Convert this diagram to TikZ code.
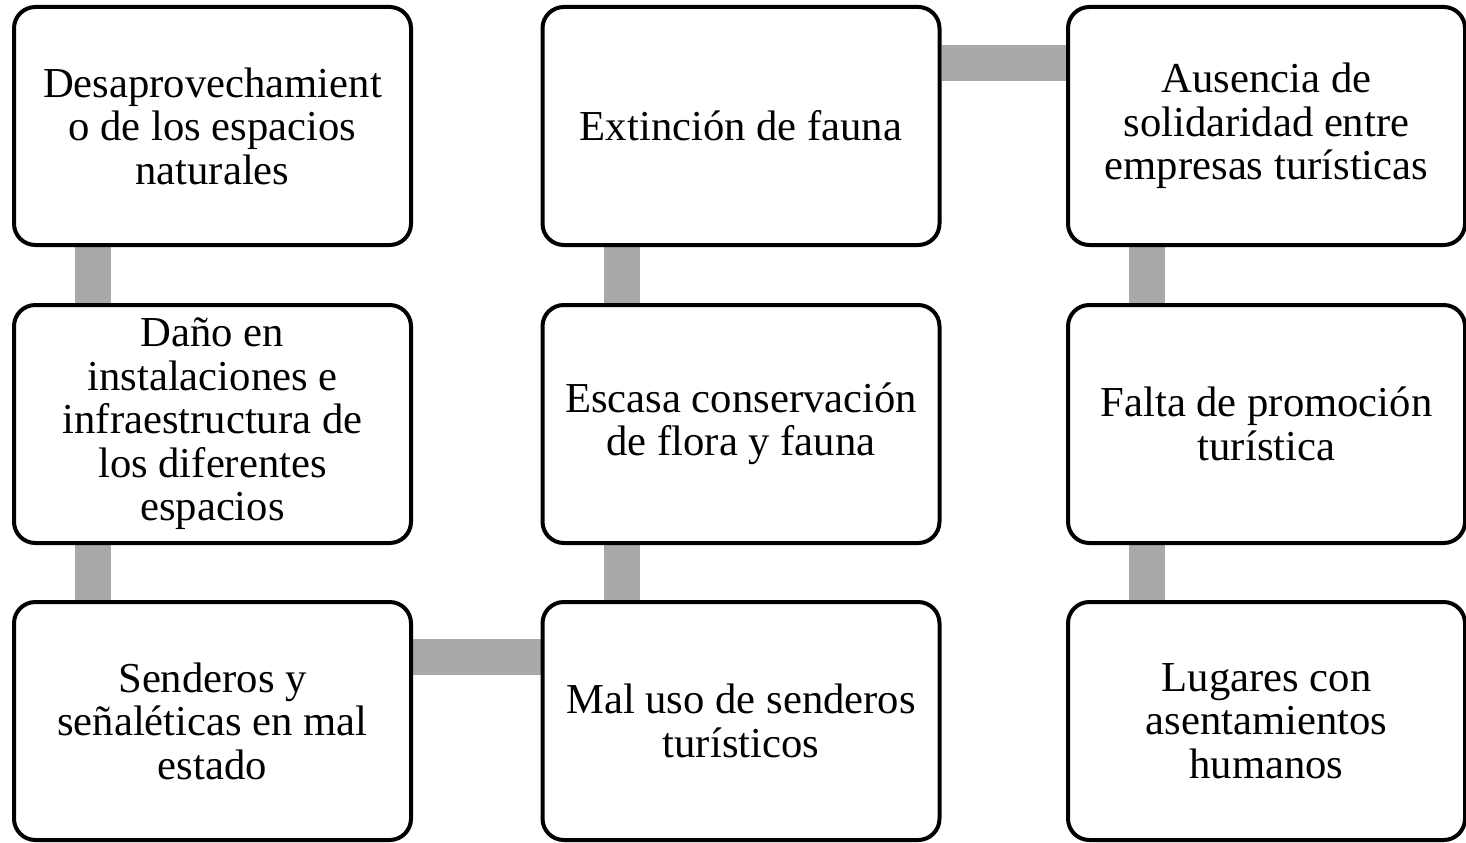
\documentclass[tikz,border=0pt]{standalone}
\usepackage{fontspec}
\setmainfont{Liberation Serif}
\usetikzlibrary{calc,backgrounds}
\definecolor{bargray}{RGB}{169,169,169}
\begin{document}
\begin{tikzpicture}[x=0.75pt,y=-0.75pt,
  probbox/.style={draw=black,line width=3pt,fill=white,rounded corners=16pt,
    minimum width=297.75pt,minimum height=178.5pt,inner sep=0pt,align=center,
    font=\fontsize{32pt}{32.6pt}\selectfont},
  bar/.style={draw=bargray,line width=27pt}]
\useasboundingbox (0,0) rectangle (1466,842);
\node[probbox] (a1) at (212.5,126) {Desaprovechamient\\o de los espacios\\naturales};
\node[probbox] (a2) at (212.5,424) {Daño en\\instalaciones e\\infraestructura de\\los diferentes\\espacios};
\node[probbox] (a3) at (212.5,721) {Senderos y\\señaléticas en mal\\estado};
\node[probbox] (b1) at (741,126) {Extinción de fauna};
\node[probbox] (b2) at (741,424) {Escasa conservación\\de flora y fauna};
\node[probbox] (b3) at (741,721) {Mal uso de senderos\\turísticos};
\node[probbox] (c1) at (1266.5,126) {Ausencia de\\solidaridad entre\\empresas turísticas};
\node[probbox] (c2) at (1266.5,424) {Falta de promoción\\turística};
\node[probbox] (c3) at (1266.5,721) {Lugares con\\asentamientos\\humanos};
\begin{scope}[on background layer]
\draw[bar] ($(a1.south west)+(81,0)$) -- ($(a2.north west)+(81,0)$);
\draw[bar] ($(a2.south west)+(81,0)$) -- ($(a3.north west)+(81,0)$);
\draw[bar] ($(a3.north east)+(0,57)$) -- ($(b3.north west)+(0,57)$);
\draw[bar] ($(b3.north west)+(81,0)$) -- ($(b2.south west)+(81,0)$);
\draw[bar] ($(b2.north west)+(81,0)$) -- ($(b1.south west)+(81,0)$);
\draw[bar] ($(b1.north east)+(0,58.5)$) -- ($(c1.north west)+(0,58.5)$);
\draw[bar] ($(c1.south west)+(81,0)$) -- ($(c2.north west)+(81,0)$);
\draw[bar] ($(c2.south west)+(81,0)$) -- ($(c3.north west)+(81,0)$);
\end{scope}
\end{tikzpicture}
\end{document}
